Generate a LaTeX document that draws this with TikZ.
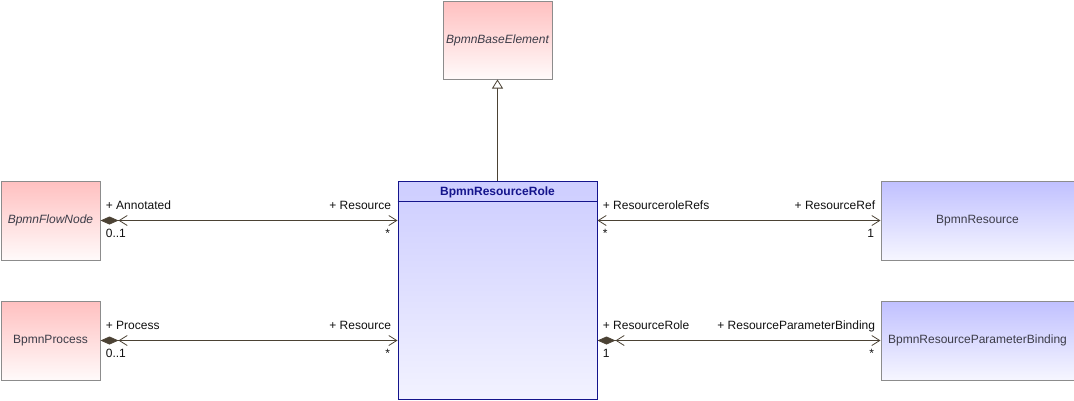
\documentclass[tikz,border=0pt]{standalone}
\usepackage{fontspec}
\setmainfont{Liberation Sans}
\usetikzlibrary{arrows.meta, calc, positioning}

\definecolor{linebrown}{HTML}{4B4234}
\definecolor{boxgray}{HTML}{8C8C8C}
\definecolor{navy}{HTML}{14148C}
\definecolor{redtop}{HTML}{FFC0C0}
\definecolor{redbot}{HTML}{FFFAFA}
\definecolor{bluetop}{HTML}{C0C0FF}
\definecolor{bluebot}{HTML}{F6F6FF}
\definecolor{roletop}{HTML}{CDCDFF}
\definecolor{rolebot}{HTML}{F2F2FF}
\definecolor{txtgray}{HTML}{3C3C48}
\definecolor{lbltxt}{HTML}{101010}

\tikzset{
	box/.style={anchor=north west, inner sep=0pt, text=txtgray, draw=boxgray, line width=1pt},
	redbox/.style={box, preaction={top color=redtop, bottom color=redbot, draw=none}, font=\fontsize{12}{14}\selectfont\itshape},
	bluebox/.style={box, preaction={top color=bluetop, bottom color=bluebot, draw=none}},
	assoc/.style={draw=linebrown, line width=0.8pt},
	lbl/.style={text=lbltxt, inner sep=0pt},
}

\begin{document}
\begin{tikzpicture}[x=1pt, y=-1pt, font=\fontsize{12}{14}\selectfont]
	\useasboundingbox (0,0) rectangle (1074,400);
	% Classes
	\node[redbox, minimum width=109pt, minimum height=78pt] (base) at (442.5,0.5) {BpmnBaseElement};
	\node[redbox, minimum width=99pt, minimum height=79pt] (flow) at (0.5,180.5) {BpmnFlowNode};
	\node[redbox, minimum width=99pt, minimum height=79pt, font=\fontsize{12}{14}\selectfont] (proc) at (0.5,300.5) {BpmnProcess};
	\node[bluebox, minimum width=193pt, minimum height=79pt] (res) at (880.5,180.5) {BpmnResource};
	\node[bluebox, minimum width=193pt, minimum height=79pt] (bind) at (880.5,300.5) {BpmnResourceParameterBinding};
	\node[preaction={top color=roletop, bottom color=rolebot, draw=none}, draw=navy, line width=1pt, anchor=north west, minimum width=199pt, minimum height=218pt] (role) at (397.5,180.5) {};
	\node[text=navy, font=\fontsize{12}{14}\selectfont\bfseries, anchor=base] (title) at ($(role.north)+(0,14.5)$) {BpmnResourceRole};
	\draw[navy, line width=1pt] ($(role.north west)+(0,21)$) -- ($(role.north east)+(0,21)$);

	% Generalization
	\draw[assoc, -{Triangle[open, length=9pt, width=11pt, fill=white]}] (role.north) -- (base.south);

	% Associations
	\draw[assoc, {Diamond[length=18pt, width=8pt, fill=linebrown] Straight Barb[length=8pt, width=10pt]}-{Straight Barb[length=8pt, width=10pt]}]
		(flow.east) -- (flow.east -| role.west)
		node[lbl, pos=0, anchor=base west, xshift=5pt, yshift=11pt] {+ Annotated}
		node[lbl, pos=0, anchor=base west, xshift=5pt, yshift=-17pt] {0..1}
		node[lbl, pos=1, anchor=base east, xshift=-6pt, yshift=11pt] {+ Resource}
		node[lbl, pos=1, anchor=base east, xshift=-7pt, yshift=-17pt] {*};
	\draw[assoc, {Diamond[length=18pt, width=8pt, fill=linebrown] Straight Barb[length=8pt, width=10pt]}-{Straight Barb[length=8pt, width=10pt]}]
		(proc.east) -- (proc.east -| role.west)
		node[lbl, pos=0, anchor=base west, xshift=5pt, yshift=11pt] {+ Process}
		node[lbl, pos=0, anchor=base west, xshift=5pt, yshift=-17pt] {0..1}
		node[lbl, pos=1, anchor=base east, xshift=-6pt, yshift=11pt] {+ Resource}
		node[lbl, pos=1, anchor=base east, xshift=-7pt, yshift=-17pt] {*};
	\draw[assoc, {Straight Barb[length=8pt, width=10pt]}-{Straight Barb[length=8pt, width=10pt]}]
		(role.east |- res.west) -- (res.west)
		node[lbl, pos=0, anchor=base west, xshift=5pt, yshift=11pt] {+ ResourceroleRefs}
		node[lbl, pos=0, anchor=base west, xshift=5pt, yshift=-17pt] {*}
		node[lbl, pos=1, anchor=base east, xshift=-5pt, yshift=11pt] {+ ResourceRef}
		node[lbl, pos=1, anchor=base east, xshift=-6pt, yshift=-17pt] {1};
	\draw[assoc, {Diamond[length=18pt, width=8pt, fill=linebrown] Straight Barb[length=8pt, width=10pt]}-{Straight Barb[length=8pt, width=10pt]}]
		(role.east |- bind.west) -- (bind.west)
		node[lbl, pos=0, anchor=base west, xshift=5pt, yshift=11pt] {+ ResourceRole}
		node[lbl, pos=0, anchor=base west, xshift=5pt, yshift=-17pt] {1}
		node[lbl, pos=1, anchor=base east, xshift=-5pt, yshift=11pt] {+ ResourceParameterBinding}
		node[lbl, pos=1, anchor=base east, xshift=-6pt, yshift=-17pt] {*};
\end{tikzpicture}
\end{document}
